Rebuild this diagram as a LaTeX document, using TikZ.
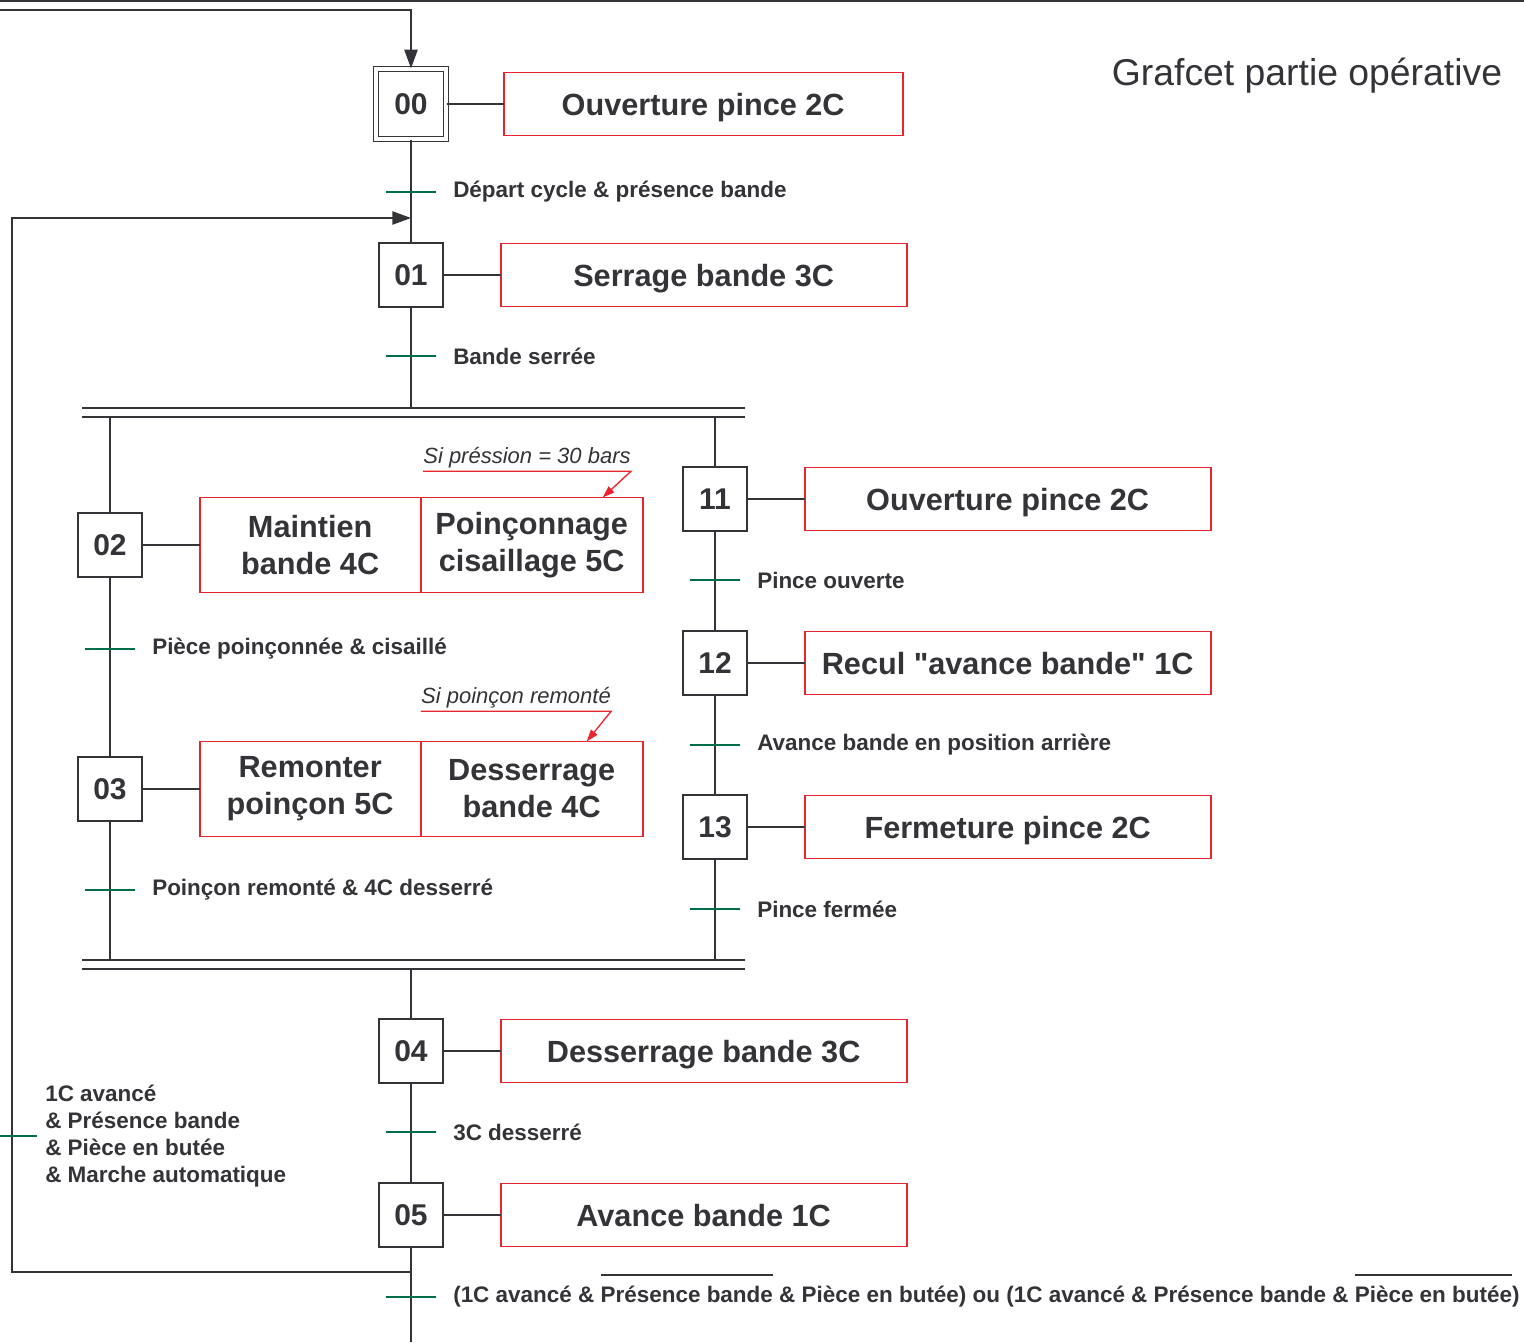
\documentclass[tikz,border=0pt]{standalone}
\usepackage{fontspec}
\setmainfont{Liberation Sans}[Ligatures=TeXOff]
\usepackage{xcolor}
\usepackage{tikz}
\usetikzlibrary{positioning,arrows.meta}

\definecolor{encre}{RGB}{51,51,56}
\definecolor{rouge}{RGB}{235,35,45}
\definecolor{vert}{RGB}{0,110,70}

\newcommand{\barre}[1]{\setbox0\hbox{#1}\rlap{\raisebox{20pt}[0pt][0pt]{\rule{\wd0}{1.5pt}}}\box0\relax}

\tikzset{
	etape/.style={draw=encre, line width=1pt, fill=white, minimum size=48pt, inner sep=0pt, text=encre, font=\fontsize{22.5}{26}\selectfont\bfseries},
	initiale/.style={etape, double=white, double distance=2.75pt, minimum size=52.5pt},
	cadre/.style={draw=rouge, line width=1.3pt, outer sep=0pt, text=encre, align=center, font=\fontsize{23}{27.75}\selectfont\bfseries},
	action/.style={cadre, text depth=0pt, minimum width=304.5pt, minimum height=47.25pt},
	actiond/.style={cadre, minimum width=166pt, minimum height=71.25pt},
	recept/.style={inner sep=0pt, anchor=west, align=left, text=encre, font=\fontsize{16.85}{20.25}\selectfont\bfseries},
	remarque/.style={inner xsep=0pt, inner ysep=2pt, text=encre, font=\fontsize{16.5}{20}\selectfont\itshape},
	liaison/.style={draw=encre, line width=1pt},
	fleche/.style={liaison, -{Triangle[length=14pt,width=10pt]}},
	tiret/.style={draw=vert, line width=1pt},
	renvoi/.style={draw=rouge, line width=1pt, -{Triangle[length=9pt,width=6pt]}}
}

\begin{document}
\begin{tikzpicture}[x=0.75pt, y=-0.75pt]
	\useasboundingbox (0,0) rectangle (1524,1342);
	\clip (0,0) rectangle (1524,1342);

	\node[text=encre, font=\fontsize{28}{32}\selectfont] (Titre) at (1307,76) {Grafcet partie opérative};

	% etapes
	\node[initiale] (E00) at (411,104) {00};
	\node[etape] (E01) at (411,275) {01};
	\node[etape] (E02) at (110,545) {02};
	\node[etape] (E03) at (110,789) {03};
	\node[etape] (E11) at (715,499) {11};
	\node[etape] (E12) at (715,663) {12};
	\node[etape] (E13) at (715,827) {13};
	\node[etape] (E04) at (411,1051) {04};
	\node[etape] (E05) at (411,1215) {05};

	% actions
	\node[action, minimum width=299.25pt, right=42.75pt of E00] (A00) {Ouverture pince 2C};
	\node[action, right=42.75pt of E01] (A01) {Serrage bande 3C};
	\node[actiond, minimum width=165.75pt, right=42.75pt of E02] (A02a) {Maintien\\bande 4C};
	\node[actiond, minimum width=166.5pt, right=0pt of A02a] (A02b) {Poinçonnage\\cisaillage 5C};
	\node[actiond, minimum width=165.75pt, right=42.75pt of E03] (A03a) {Remonter\\poinçon 5C};
	\node[actiond, minimum width=166.5pt, right=0pt of A03a] (A03b) {Desserrage\\bande 4C};
	\node[action, right=42.75pt of E11] (A11) {Ouverture pince 2C};
	\node[action, right=42.75pt of E12] (A12) {Recul "avance bande" 1C};
	\node[action, right=42.75pt of E13] (A13) {Fermeture pince 2C};
	\node[action, right=42.75pt of E04] (A04) {Desserrage bande 3C};
	\node[action, right=42.75pt of E05] (A05) {Avance bande 1C};

	\foreach \e/\a in {E00/A00, E01/A01, E02/A02a, E03/A03a, E11/A11, E12/A12, E13/A13, E04/A04, E05/A05}
		\draw[liaison] (\e) -- (\a);

	% conditions
	\node[remarque] (N02) at (527,458) {Si préssion = 30 bars};
	\node[remarque] (N03) at (516,698) {Si poinçon remonté};
	\draw[renvoi] (N02.south west) -- (N02.south east) -- ([xshift=-30pt]A02b.north east);
	\draw[renvoi] (N03.south west) -- (N03.south east) -- ([xshift=-42pt]A03b.north east);

	% divergence et convergence en ET
	\coordinate (DivG) at (82,408);
	\coordinate (DivD) at (745,408);
	\coordinate (ConG) at (82,960);
	\coordinate (ConD) at (745,960);
	\draw[liaison] (DivG) -- (DivD) ([yshift=-6.75pt]DivG) -- ([yshift=-6.75pt]DivD);
	\draw[liaison] (ConG) -- (ConD) ([yshift=-6.75pt]ConG) -- ([yshift=-6.75pt]ConD);

	% liaisons
	\coordinate (H0) at (0,10);
	\coordinate (G01) at (12,218);
	\coordinate (J01) at (411,218);
	\coordinate (R05) at (411,1272);
	\coordinate (Fin) at (411,1342);
	\draw[fleche] (H0) -| (E00.north);
	\draw[liaison] (E00) -- (E01) (E01) -- (E01 |- DivG);
	\draw[liaison] ([yshift=-6.75pt]DivG -| E02) -- (E02) (E02) -- (E03) (E03) -- (E03 |- ConG);
	\draw[liaison] ([yshift=-6.75pt]DivG -| E11) -- (E11) (E11) -- (E12) (E12) -- (E13) (E13) -- (E13 |- ConG);
	\draw[liaison] ([yshift=-6.75pt]ConG -| E04) -- (E04) (E04) -- (E05) (E05) -- (Fin);
	\draw[fleche] (R05) -| (G01) -- (J01);
	\draw[liaison] (0,1) -- (1524,1);

	% transitions
	\foreach \t/\x/\y in {0/411/192, 1/411/356, 2/110/649, 3/110/890, 11/715/580, 12/715/745, 13/715/909, 4/411/1132, 5/411/1297, G/12/1136}
	{
		\coordinate (T\t) at (\x,\y);
		\draw[tiret] ([xshift=-19pt]T\t) -- ([xshift=19pt]T\t);
	}
	\node[recept, right=31.5pt of T0] (C0) {Départ cycle \& présence bande};
	\node[recept, right=31.5pt of T1] (C1) {Bande serrée};
	\node[recept, right=31.5pt of T2] (C2) {Pièce poinçonnée \& cisaillé};
	\node[recept, right=31.5pt of T3] (C3) {Poinçon remonté \& 4C desserré};
	\node[recept, right=31.5pt of T11] (C11) {Pince ouverte};
	\node[recept, right=31.5pt of T12] (C12) {Avance bande en position arrière};
	\node[recept, right=31.5pt of T13] (C13) {Pince fermée};
	\node[recept, right=31.5pt of T4] (C4) {3C desserré};
	\node[recept, right=31.5pt of T5] (C5) {(1C avancé \& \barre{Présence bande} \& Pièce en butée) ou (1C avancé \& Présence bande \& \barre{Pièce en butée})};
	\node[recept, right=24.75pt of TG] (CG) {1C avancé\\\& Présence bande\\\& Pièce en butée\\\& Marche automatique};
\end{tikzpicture}
\end{document}
